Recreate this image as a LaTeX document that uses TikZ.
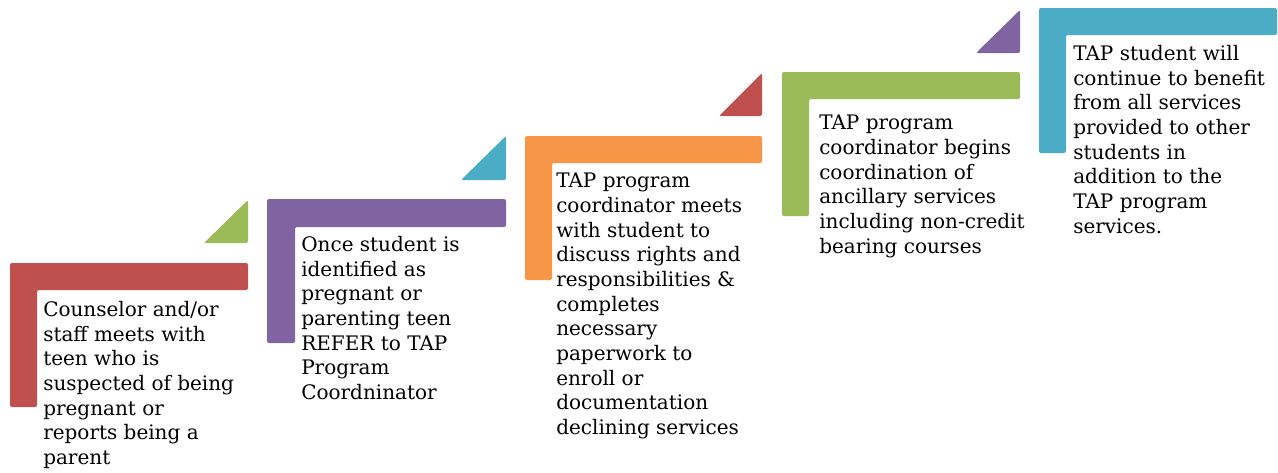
\documentclass[tikz,border=0pt]{standalone}
\usepackage{fontspec}
\setmainfont{DejaVu Serif}
\usepackage{tikz}

\definecolor{stepred}{HTML}{C0504D}
\definecolor{steppurple}{HTML}{8064A2}
\definecolor{steporange}{HTML}{F79646}
\definecolor{stepgreen}{HTML}{9BBB59}
\definecolor{stepblue}{HTML}{4BACC6}

\begin{document}
\begin{tikzpicture}[x=0.75pt, y=-0.75pt,
    stepshape/.style={rounded corners=1.5pt},
    steptext/.style={anchor=north west, inner sep=0pt, align=left,
        font=\fontsize{15}{18.5}\selectfont}]
    \useasboundingbox (0,0) rectangle (1278,472);

    % Step 1
    \fill[stepred, stepshape] (10,263) -- (248,263) -- (248,290) -- (37,290)
        -- (37,407) -- (10,407) -- cycle;
    \fill[stepgreen, stepshape] (204,243) -- (248,243) -- (248,200) -- cycle;
    \node[steptext] (counselor) at (43,301) {Counselor and/or\\staff meets with\\teen who is\\suspected of being\\pregnant or\\reports being a\\parent};

    % Step 2
    \fill[steppurple, stepshape] (267,199) -- (506,199) -- (506,227) -- (295,227)
        -- (295,343) -- (267,343) -- cycle;
    \fill[stepblue, stepshape] (461,180) -- (506,180) -- (506,136) -- cycle;
    \node[steptext] (refer) at (301,236) {Once student is\\identified as\\pregnant or\\parenting teen\\REFER to TAP\\Program\\Coordninator};

    % Step 3
    \fill[steporange, stepshape] (525,136) -- (762,136) -- (762,163) -- (552,163)
        -- (552,280) -- (525,280) -- cycle;
    \fill[stepred, stepshape] (719,116) -- (762,116) -- (762,73) -- cycle;
    \node[steptext] (meets) at (556,173) {TAP program\\coordinator meets\\with student to\\discuss rights and\\responsibilities \&\\completes\\necessary\\paperwork to\\enroll or\\documentation\\declining services};

    % Step 4
    \fill[stepgreen, stepshape] (782,72) -- (1020,72) -- (1020,99) -- (809,99)
        -- (809,216) -- (782,216) -- cycle;
    \fill[steppurple, stepshape] (976,53) -- (1020,53) -- (1020,10) -- cycle;
    \node[steptext] (ancillary) at (819,115) {TAP program\\coordinator begins\\coordination of\\ancillary services\\including non-credit\\bearing courses};

    % Step 5
    \fill[stepblue, stepshape] (1039,8) -- (1277,8) -- (1277,35) -- (1066,35)
        -- (1066,153) -- (1039,153) -- cycle;
    \node[steptext] (benefit) at (1073,45) {TAP student will\\continue to benefit\\from all services\\provided to other\\students in\\addition to the\\TAP program\\services.};
\end{tikzpicture}
\end{document}
